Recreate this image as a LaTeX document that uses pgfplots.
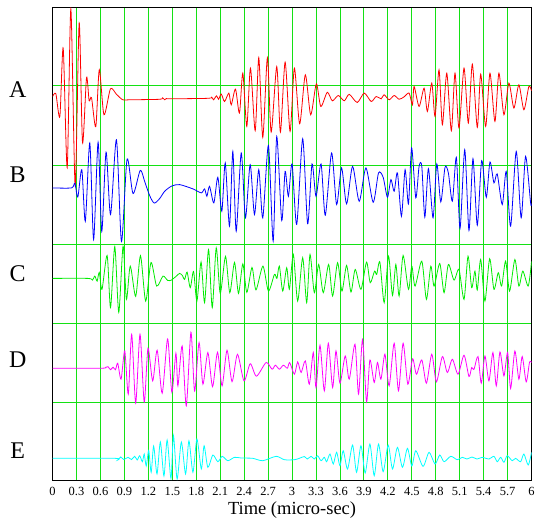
\documentclass[border=0pt]{standalone}
\usepackage{fontspec}
\setmainfont{Liberation Serif}
\usepackage{pgfplots}
\pgfplotsset{compat=1.18}
\definecolor{gridgreen}{RGB}{20,225,20}
\definecolor{trA}{RGB}{255,0,0}
\definecolor{trB}{RGB}{0,0,255}
\definecolor{trC}{RGB}{0,235,0}
\definecolor{trD}{RGB}{255,0,255}
\definecolor{trE}{RGB}{0,255,255}
\begin{document}
\begin{tikzpicture}
\begin{axis}[
  scale only axis,
  width=480pt, height=474pt,
  xmin=0, xmax=6, ymin=0, ymax=474,
  xtick={0,0.3,0.6,0.9,1.2,1.5,1.8,2.1,2.4,2.7,3,3.3,3.6,3.9,4.2,4.5,4.8,5.1,5.4,5.7,6},
  xticklabels={0,0.3,0.6,0.9,1.2,1.5,1.8,2.1,2.4,2.7,3,3.3,3.6,3.9,4.2,4.5,4.8,5.1,5.4,5.7,6},
  ytick={79,158,237,316,396},
  yticklabels={,,,,},
  extra y ticks={30,121.5,207.3,307.3,392.3},
  extra y tick labels={E,D,C,B,A},
  extra y tick style={grid=none, major tick length=0pt,
    yticklabel style={font=\fontsize{24}{24}\selectfont, anchor=center, xshift=-35pt}},
  major tick length=0pt,
  xmajorgrids, ymajorgrids,
  grid style={gridgreen, line width=0.9pt},
  axis line style={black, line width=1pt},
  xticklabel style={font=\fontsize{12.5}{14}\selectfont, yshift=-3pt},
  xlabel={Time (micro-sec)},
  xlabel style={font=\fontsize{18.5}{20}\selectfont, yshift=1pt},
  every axis plot/.append style={line width=0.8pt, smooth, tension=0.45},
]
% A
\addplot[trA] coordinates {
(0,385.3)(0.041,388)(0.091,365.3)(0.133,433.7)(0.183,314)(0.229,473)(0.283,296)(0.333,459)(0.375,339)(0.425,404)(0.458,381)(0.488,384)(0.541,355)(0.585,412)(0.644,367)(0.725,393)(0.800,387.5)(0.879,382)(0.966,382)(1.341,382.5)(1.379,384)(1.404,382)(1.429,383.5)(1.466,383)(1.954,383.5)(1.991,385)(2.016,382)(2.054,386)(2.079,382.5)(2.113,387.7)(2.154,380.3)(2.208,388.7)(2.238,377)(2.291,392.7)(2.341,368.7)(2.383,408.7)(2.433,355.3)(2.479,413.7)(2.538,351)(2.583,424.3)(2.633,344.3)(2.691,424.3)(2.738,349.7)(2.808,415.3)(2.854,349.7)(2.913,419.7)(2.975,350.3)(3.029,413.7)(3.095,358)(3.166,407)(3.233,367)(3.304,398)(3.360,375.3)(3.441,389.5)(3.504,381)(3.579,386.3)(3.654,381)(3.716,387.5)(3.816,379.3)(3.904,388.7)(3.991,380.3)(4.054,385.3)(4.116,383)(4.154,387)(4.216,382)(4.279,386.3)(4.341,382.5)(4.404,385)(4.466,388.7)(4.508,377)(4.529,395.3)(4.591,375.3)(4.654,393.7)(4.695,370.3)(4.750,398.7)(4.791,365.3)(4.841,412)(4.883,357)(4.938,408.7)(4.995,351)(5.041,408.7)(5.091,353.7)(5.154,413.7)(5.208,358.7)(5.258,417.7)(5.320,354.3)(5.363,407.7)(5.425,355.3)(5.479,408.7)(5.541,360.3)(5.591,408.7)(5.654,367)(5.716,398.7)(5.779,373.7)(5.841,397)(5.904,372)(5.966,395.3)(6.0,391)
};
% B
\addplot[trB] coordinates {
(0,293.7)(0.2375,293.7)(0.279,298.5)(0.316,284.5)(0.366,312)(0.410,260.3)(0.466,338.7)(0.514,242)(0.570,339.5)(0.616,250)(0.670,329.5)(0.726,267)(0.800,342)(0.863,240)(0.933,322.5)(1.008,288)(1.098,311.3)(1.154,300)(1.216,286)(1.273,278.5)(1.341,283)(1.404,290.3)(1.491,295.5)(1.591,297)(1.758,292.7)(1.863,288.7)(1.904,292.7)(1.933,285.3)(1.966,295.3)(2.020,278.7)(2.070,304.3)(2.120,270.3)(2.163,318.7)(2.216,255.3)(2.258,330.3)(2.300,250.3)(2.363,328.7)(2.416,263.7)(2.475,317)(2.529,267)(2.583,312)(2.633,263.7)(2.704,336.3)(2.763,240.3)(2.808,345.3)(2.870,261)(2.913,310.3)(2.954,285.3)(3.000,317.7)(3.058,257)(3.133,343)(3.195,257.7)(3.250,317.7)(3.300,285.3)(3.363,317.7)(3.416,266.3)(3.495,328.7)(3.558,277)(3.620,313.7)(3.683,277.7)(3.758,315.3)(3.841,280.3)(3.925,313.7)(4.016,279.3)(4.083,308.7)(4.141,304.3)(4.195,284.3)(4.238,302)(4.279,290.3)(4.320,308.7)(4.370,265.3)(4.416,312)(4.458,277.7)(4.498,333.7)(4.550,283.7)(4.591,315.3)(4.625,315.3)(4.663,264.3)(4.708,313)(4.766,263.7)(4.813,317.7)(4.863,279.7)(4.916,314.3)(4.958,308.7)(5.008,280.3)(5.058,324.3)(5.104,253)(5.163,332)(5.216,251)(5.266,323)(5.320,256.3)(5.375,321)(5.433,284.3)(5.479,319.7)(5.529,298.7)(5.570,307.7)(5.633,277)(5.683,310.3)(5.738,255.3)(5.808,330.3)(5.870,263.7)(5.925,325.3)(5.988,278.7)(6.0,278)
};
% C
\addplot[trC] coordinates {
(0,203)(0.445,203)(0.5,201.3)(0.529,205.3)(0.558,200.3)(0.585,209)(0.619,192)(0.683,226)(0.726,173.7)(0.779,235)(0.829,169)(0.883,235.3)(0.925,182)(0.973,215.3)(1.041,185)(1.101,225.7)(1.166,180.3)(1.233,219)(1.304,195.3)(1.383,205.3)(1.441,201)(1.488,201.3)(1.550,205.3)(1.591,208)(1.625,206)(1.654,202)(1.685,209.3)(1.725,193.7)(1.766,210)(1.808,180.3)(1.860,219.5)(1.904,178.7)(1.954,232)(2.0,173.7)(2.050,233.7)(2.100,188)(2.166,225)(2.220,188.7)(2.279,219)(2.329,188)(2.383,217.5)(2.433,189)(2.498,214)(2.548,191.5)(2.635,215.3)(2.704,190.3)(2.779,207)(2.810,203)(2.841,215.3)(2.883,190.3)(2.933,213.7)(2.966,192)(3.016,227)(3.070,180.3)(3.133,223.7)(3.183,178.7)(3.225,227)(3.279,188.7)(3.333,217)(3.391,188.7)(3.458,217)(3.508,185.3)(3.570,218.7)(3.625,190.3)(3.683,216)(3.738,189.3)(3.791,212)(3.863,192)(3.933,219.3)(3.979,198.7)(4.033,210.3)(4.060,207)(4.100,219.3)(4.154,178.7)(4.208,225.3)(4.258,186)(4.300,217)(4.341,185.3)(4.391,226)(4.458,192)(4.500,215.3)(4.541,195.3)(4.625,220.3)(4.683,182)(4.738,215.3)(4.779,195.3)(4.850,218)(4.904,188.7)(4.958,217)(5.029,201.3)(5.091,212)(5.154,182)(5.204,225.3)(5.250,193.7)(5.291,210.3)(5.320,191.3)(5.363,222)(5.416,180.3)(5.475,222.7)(5.529,192)(5.583,208.7)(5.625,195.3)(5.675,220.3)(5.725,190.3)(5.791,222)(5.841,195.3)(5.891,210.3)(5.958,195.3)(6.0,220)
};
% D
\addplot[trD] coordinates {
(0,113)(0.613,113)(0.666,114)(0.695,114.5)(0.725,111.5)(0.758,114)(0.788,111.5)(0.816,118)(0.858,102)(0.904,130.3)(0.948,87)(0.991,147)(1.041,78)(1.095,147)(1.148,79)(1.195,133)(1.254,100.3)(1.310,131)(1.373,88)(1.441,142.3)(1.494,89)(1.545,128)(1.570,95.3)(1.623,135.3)(1.675,75.3)(1.733,149)(1.779,90)(1.835,138.7)(1.883,97)(1.945,128.7)(2.004,94.5)(2.066,129)(2.123,95.3)(2.185,131)(2.248,99.5)(2.316,127)(2.398,100.3)(2.476,117.5)(2.554,105)(2.675,118.7)(2.750,112)(2.791,116)(2.841,112)(2.891,116)(2.941,113)(2.970,118.7)(3.029,107)(3.070,119.3)(3.113,108.7)(3.166,120.3)(3.216,97)(3.266,128.7)(3.300,93.7)(3.350,136)(3.404,90.3)(3.454,138)(3.508,93.7)(3.550,130.3)(3.600,98)(3.666,125.3)(3.716,102)(3.788,137)(3.833,87)(3.883,142)(3.933,79.3)(3.975,121.3)(4.029,98.7)(4.070,118.7)(4.113,102)(4.163,127)(4.216,95.3)(4.279,138)(4.333,90.3)(4.391,138)(4.450,97)(4.510,122.5)(4.558,107)(4.625,121.3)(4.683,98)(4.750,127)(4.808,99.3)(4.883,124.7)(4.945,108.7)(5.008,122)(5.079,107)(5.154,126)(5.216,104.7)(5.250,113.7)(5.279,112)(5.329,124.7)(5.370,98)(5.416,125.3)(5.466,100.3)(5.516,128.7)(5.558,95.3)(5.604,129.3)(5.654,105.3)(5.700,128.7)(5.738,92.7)(5.791,130.3)(5.841,102)(5.883,124.7)(5.933,99.3)(5.975,119.3)(6.0,118.7)
};
% E
\addplot[trE] coordinates {
(0,22.7)(0.779,22.7)(0.816,21)(0.854,24)(0.891,21.5)(0.945,23.7)(0.988,21.5)(1.029,24.7)(1.060,21)(1.091,25.3)(1.125,19.3)(1.148,27)(1.173,15)(1.204,30.5)(1.235,8.7)(1.266,35)(1.308,7)(1.350,39)(1.395,5)(1.435,41)(1.483,2.5)(1.514,45.5)(1.560,2)(1.613,39)(1.666,7)(1.708,40.3)(1.758,8.7)(1.808,42)(1.863,12)(1.898,35.3)(1.945,13.7)(2.008,26)(2.070,19.3)(2.125,24.7)(2.195,20.3)(2.279,23.7)(2.363,23)(2.508,22.7)(2.633,20.3)(2.800,24.7)(2.904,21.3)(3.029,21.3)(3.091,22.7)(3.154,24.5)(3.191,22)(3.238,24.7)(3.279,22)(3.320,25.3)(3.363,20.3)(3.404,23.7)(3.433,19.3)(3.475,27)(3.516,17)(3.558,28.7)(3.600,15.3)(3.641,30.3)(3.695,12)(3.758,36)(3.808,8.7)(3.863,35.3)(3.916,8)(3.975,37)(4.029,5.3)(4.083,37)(4.141,9.3)(4.204,36)(4.258,12)(4.320,33.7)(4.383,13.7)(4.445,32.7)(4.500,15)(4.550,30.3)(4.641,14.7)(4.716,28.7)(4.791,17)(4.850,26)(4.904,19.3)(4.988,24.7)(5.070,21.3)(5.133,23.7)(5.191,22)(5.254,24)(5.316,22)(5.383,23.7)(5.466,22)(5.529,24.7)(5.570,19.3)(5.613,23.7)(5.654,18.7)(5.695,25.3)(5.758,20.3)(5.800,22.7)(5.863,19.3)(5.904,27)(5.958,16)(6.0,28.7)
};
\end{axis}
\path ([shift={(-52.7pt,-41pt)}]current axis.south west) rectangle ([shift={(5.3pt,8pt)}]current axis.north east);
\end{tikzpicture}
\end{document}
